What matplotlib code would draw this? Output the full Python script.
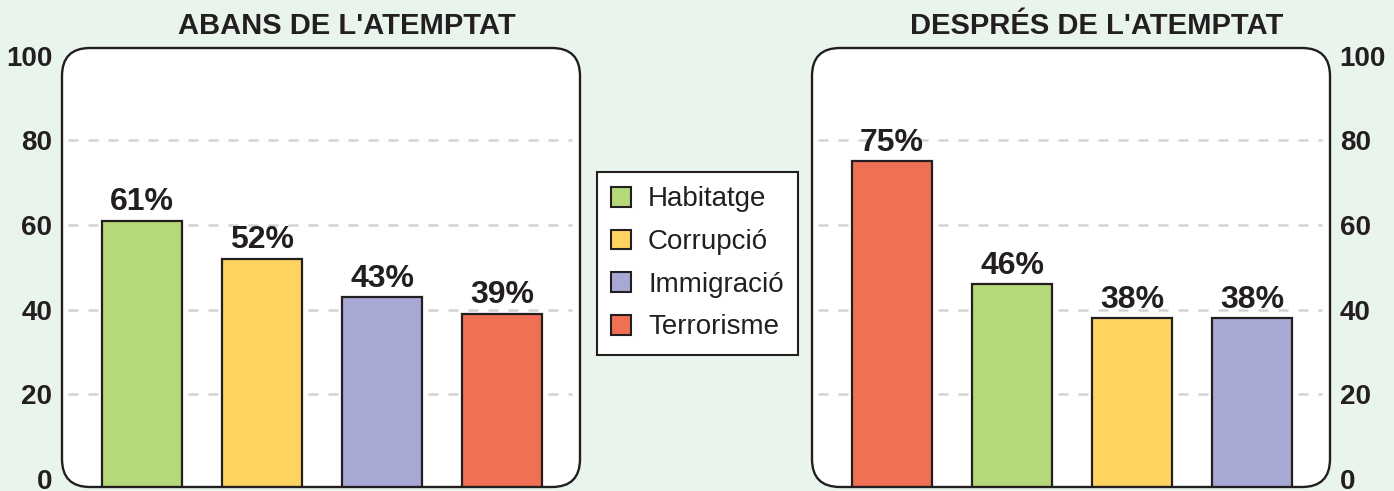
import numpy as np
import matplotlib.pyplot as plt
from matplotlib.patches import FancyBboxPatch, Patch

plt.rcParams["font.family"] = ["Liberation Sans", "DejaVu Sans"]

# data
categories = ["Habitatge", "Corrupció", "Immigració", "Terrorisme"]
colors = {
    "Habitatge": "#B5D879",
    "Corrupció": "#FED35F",
    "Immigració": "#A7A8D4",
    "Terrorisme": "#F07053",
}

before_labels = ["Habitatge", "Corrupció", "Immigració", "Terrorisme"]
before_values = [61, 52, 43, 39]

after_labels = ["Terrorisme", "Habitatge", "Corrupció", "Immigració"]
after_values = [75, 46, 38, 38]

y_ticks = [0, 20, 40, 60, 80, 100]
grid_values = [20, 40, 60, 80]

bg = "#E9F4EC"
ink = "#231F20"

W, H = 13.94, 4.91
fig = plt.figure(figsize=(W, H), dpi=100)
fig.patch.set_facecolor(bg)


def panel(x0_px, labels, values, title, right=False):
    # box geometry in pixels (top-left origin) -> inches
    box_w, box_top, box_bot = 518, 48, 487
    x0 = x0_px / 100
    y0 = (491 - box_bot) / 100
    w = box_w / 100
    h = (box_bot - box_top) / 100

    ax = fig.add_axes([x0 / W, y0 / H, w / W, h / H])
    ax.patch.set_visible(False)
    for s in ax.spines.values():
        s.set_visible(False)

    box = FancyBboxPatch((x0, y0), w, h,
                         boxstyle="round,pad=0,rounding_size=0.28",
                         transform=fig.dpi_scale_trans,
                         facecolor="white", edgecolor="none", zorder=-1)
    fig.add_artist(box)
    outline = FancyBboxPatch((x0, y0), w, h,
                             boxstyle="round,pad=0,rounding_size=0.28",
                             transform=fig.dpi_scale_trans,
                             facecolor="none", edgecolor=ink, lw=1.7, zorder=5)
    fig.add_artist(outline)

    ax.set_ylim(-1.9, 101.8)
    ax.set_xlim(-0.667, 3.65)

    for g in grid_values:
        ax.axhline(g, xmin=0.012, xmax=0.985, color="#D3D3D3", lw=1.8,
                   ls=(0, (4, 4)), zorder=0)

    x = np.arange(len(values))
    vals = np.array(values)
    bars = ax.bar(x, vals + 5, bottom=-5, width=0.667,
                  color=[colors[l] for l in labels],
                  edgecolor=ink, linewidth=1.6, zorder=2)
    for b in bars:
        b.set_clip_path(box)

    for xi, v in zip(x, values):
        ax.annotate(f"{v}%", (xi, v), xytext=(0, 7.5), textcoords="offset points",
                    ha="center", va="baseline", fontsize=23,
                    fontweight="bold", color=ink, zorder=4)

    ax.set_xticks([])
    ax.set_yticks(y_ticks)
    ax.set_yticklabels([str(t) for t in y_ticks], fontsize=20,
                       fontweight="bold", color=ink)
    if right:
        ax.yaxis.tick_right()
    ax.tick_params(axis="y", length=0, pad=7)

    ax.set_title(title, fontsize=21, fontweight="bold", color=ink,
                 x=0.55, pad=10)
    return ax


panel(62, before_labels, before_values, "ABANS DE L'ATEMPTAT")
panel(812, after_labels, after_values, "DESPRÉS DE L'ATEMPTAT", right=True)

handles = [Patch(facecolor=colors[c], edgecolor=ink, linewidth=1.5) for c in categories]
leg = fig.legend(handles, categories, loc="center",
                 bbox_to_anchor=(697.5 / 1394, 1 - 263.5 / 491),
                 fontsize=20, frameon=True, fancybox=False,
                 handlelength=0.72, handleheight=0.72, handletextpad=0.6,
                 labelspacing=0.6, borderpad=0.52, borderaxespad=0)
leg.get_frame().set_edgecolor(ink)
leg.get_frame().set_linewidth(1.5)
leg.get_frame().set_facecolor("white")
leg.get_frame().set_alpha(1)
for t in leg.get_texts():
    t.set_color(ink)

fig.savefig("out.png", dpi=100, facecolor=bg)
